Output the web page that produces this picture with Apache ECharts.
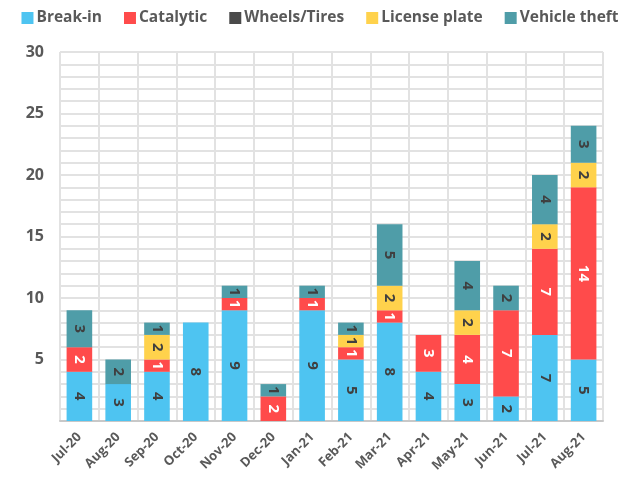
<!DOCTYPE html>
<html>
<head>
<meta charset="utf-8">
<script src="https://cdn.jsdelivr.net/npm/echarts@6/dist/echarts.min.js"></script>
<style>
  html, body { margin: 0; padding: 0; background: #fff; }
  #chart { width: 640px; height: 477px; }
</style>
</head>
<body>
<div id="chart"></div>
<script>
// Monthly incident counts by type
const months = ['Jul-20', 'Aug-20', 'Sep-20', 'Oct-20', 'Nov-20', 'Dec-20', 'Jan-21',
  'Feb-21', 'Mar-21', 'Apr-21', 'May-21', 'Jun-21', 'Jul-21', 'Aug-21'];
const breakIn      = [4, 3, 4, 8, 9, 0, 9, 5, 8, 4, 3, 2, 7, 5];
const catalytic    = [2, 0, 1, 0, 1, 2, 1, 1, 1, 3, 4, 7, 7, 14];
const wheelsTires  = [0, 0, 0, 0, 0, 0, 0, 0, 0, 0, 0, 0, 0, 0];
const licensePlate = [0, 0, 2, 0, 0, 0, 0, 1, 2, 0, 2, 0, 2, 2];
const vehicleTheft = [3, 2, 1, 0, 1, 1, 1, 1, 5, 0, 4, 2, 4, 3];
const yTicks = [5, 10, 15, 20, 25, 30];

const seriesDefs = [
  { name: 'Break-in',      data: breakIn,      color: '#4EC4F1', label: '#3F3F3F' },
  { name: 'Catalytic',     data: catalytic,    color: '#FF4B4B', label: '#FFFFFF' },
  { name: 'Wheels/Tires',  data: wheelsTires,  color: '#4A4A4A', label: '#FFFFFF' },
  { name: 'License plate', data: licensePlate, color: '#FFD24C', label: '#3F3F3F' },
  { name: 'Vehicle theft', data: vehicleTheft, color: '#4F9DA8', label: '#3F3F3F' }
];

const gridColor = '#E2E2E2';
const textColor = '#595959';
const font = 'Open Sans, Liberation Sans, sans-serif';

const chart = echarts.init(document.getElementById('chart'), null, { renderer: 'canvas' });
chart.setOption({
  animation: false,
  textStyle: { fontFamily: font },
  legend: {
    top: 5,
    left: 'center',
    itemWidth: 12,
    itemHeight: 12,
    itemGap: 22,
    icon: 'rect',
    textStyle: { fontSize: 15.5, fontWeight: 'bold', color: textColor, fontFamily: font, padding: [0, 0, 0, -2] },
    data: seriesDefs.map(s => s.name)
  },
  grid: { left: 60, right: 37, top: 52, bottom: 56, containLabel: false },
  xAxis: {
    type: 'category',
    data: months,
    axisLine: { show: true, lineStyle: { color: '#C8C8C8', width: 2 } },
    axisTick: { show: false },
    splitLine: { show: true, interval: 0, lineStyle: { color: gridColor, width: 2 } },
    axisLabel: {
      interval: 0, rotate: 45, fontSize: 13, fontWeight: 'bold', color: textColor,
      fontFamily: font, margin: 14
    }
  },
  yAxis: {
    type: 'value',
    min: 0,
    max: 30,
    interval: 5,
    axisLine: { show: false },
    axisTick: { show: false },
    splitLine: { show: true, lineStyle: { color: gridColor, width: 2 } },
    minorTick: { show: false, splitNumber: 5 },
    minorSplitLine: { show: true, lineStyle: { color: gridColor, width: 2 } },
    axisLabel: {
      fontSize: 16, fontWeight: 'bold', color: textColor, fontFamily: font, margin: 16,
      formatter: v => (yTicks.indexOf(v) >= 0 ? String(v) : '')
    }
  },
  series: seriesDefs.map(s => ({
    name: s.name,
    type: 'bar',
    stack: 'total',
    barWidth: '66%',
    data: s.data,
    itemStyle: { color: s.color },
    label: {
      show: true,
      position: 'inside',
      rotate: -90,
      fontSize: 15,
      fontWeight: 'bold',
      fontFamily: font,
      color: s.label,
      formatter: p => (p.value ? String(p.value) : '')
    }
  }))
});
</script>
</body>
</html>
